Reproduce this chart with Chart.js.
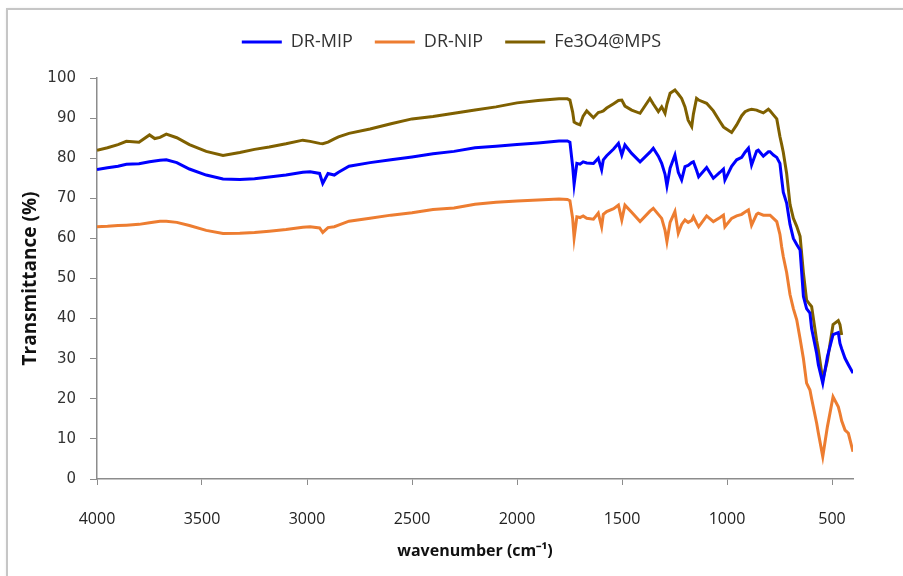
<!DOCTYPE html>
<html>
<head>
<meta charset="utf-8">
<script src="https://cdn.jsdelivr.net/npm/chart.js@4.4.1/dist/chart.umd.min.js"></script>
<style>
    html, body { margin: 0; padding: 0; background: #fff; }
    #wrap { position: relative; width: 903px; height: 576px; overflow: hidden; }
    #frame {
        position: absolute; left: 6px; top: 8px; width: 940px; height: 620px;
        border: 2px solid #c6c6c6; box-shadow: 1px 1px 3px rgba(0,0,0,0.15);
        pointer-events: none;
    }
</style>
</head>
<body>
<div id="wrap">
    <canvas id="ftirChart" width="903" height="576"></canvas>
    <div id="frame"></div>
</div>
<script>
// --- Data ---
const wavenumbers = [4000, 3950, 3900, 3860, 3800, 3750, 3725, 3700, 3670, 3620, 3560, 3480, 3400, 3320, 3250, 3180, 3100, 3020, 2985, 2940, 2925, 2900, 2870, 2850, 2800, 2700, 2600, 2500, 2400, 2300, 2200, 2100, 2000, 1900, 1800, 1760, 1748, 1735, 1728, 1715, 1700, 1685, 1668, 1636, 1613, 1597, 1589, 1573, 1540, 1517, 1501, 1486, 1454, 1414, 1367, 1351, 1327, 1311, 1295, 1286, 1271, 1248, 1232, 1216, 1200, 1185, 1168, 1160, 1145, 1135, 1097, 1065, 1033, 1017, 1010, 978, 954, 930, 914, 898, 883, 859, 851, 827, 803, 795, 779, 763, 748, 740, 732, 716, 700, 684, 668, 652, 636, 621, 605, 597, 573, 565, 544, 522, 495, 470, 462, 454, 438, 422, 400];

const drMip = [77.2, 77.6, 78.0, 78.5, 78.6, 79.1, 79.3, 79.5, 79.6, 78.9, 77.3, 75.8, 74.8, 74.7, 74.9, 75.3, 75.8, 76.5, 76.6, 76.2, 73.7, 76.2, 75.8, 76.5, 78.0, 78.9, 79.6, 80.3, 81.1, 81.7, 82.6, 83.0, 83.4, 83.8, 84.3, 84.3, 84.0, 78.0, 73.5, 78.7, 78.5, 79.1, 78.8, 78.7, 80.0, 77.1, 79.6, 80.6, 82.3, 83.7, 80.8, 83.3, 81.2, 79.1, 81.5, 82.5, 80.5, 78.7, 76.0, 73.1, 77.5, 80.8, 76.5, 74.6, 77.9, 78.2, 78.9, 79.1, 77.0, 75.4, 77.7, 75.0, 76.5, 77.3, 74.6, 78.0, 79.6, 80.2, 81.5, 82.5, 78.3, 81.8, 82.0, 80.5, 81.6, 81.6, 80.8, 80.2, 78.7, 75.0, 71.5, 68.8, 63.5, 60.0, 58.5, 57.1, 45.5, 42.5, 41.4, 37.5, 31.3, 28.5, 23.9, 30.5, 36.0, 36.5, 33.8, 32.5, 30.1, 28.5, 26.4];

const drNip = [62.9, 63.0, 63.2, 63.3, 63.5, 63.9, 64.1, 64.3, 64.3, 64.0, 63.2, 62.0, 61.2, 61.3, 61.5, 61.8, 62.2, 62.8, 62.9, 62.6, 61.5, 62.7, 62.9, 63.3, 64.3, 65.0, 65.8, 66.4, 67.2, 67.6, 68.5, 69.0, 69.3, 69.6, 69.8, 69.7, 69.4, 65.0, 60.2, 65.4, 65.2, 65.6, 65.0, 64.8, 66.3, 62.9, 66.0, 66.7, 67.4, 68.3, 64.6, 68.3, 66.5, 64.2, 66.8, 67.5, 66.0, 65.0, 62.0, 59.2, 64.0, 66.7, 61.3, 63.5, 64.6, 64.0, 64.5, 65.4, 63.8, 62.9, 65.6, 64.2, 65.2, 65.8, 62.9, 65.0, 65.6, 66.0, 66.6, 67.1, 63.3, 66.0, 66.3, 65.8, 65.8, 65.8, 65.0, 64.2, 61.0, 58.0, 55.5, 51.5, 46.0, 42.5, 39.7, 35.0, 30.0, 23.9, 22.2, 20.0, 13.9, 11.5, 5.6, 13.0, 20.5, 18.0, 16.4, 14.5, 12.2, 11.4, 6.8];

const fe3o4Mps = [82.0, 82.6, 83.4, 84.2, 84.0, 85.8, 84.9, 85.2, 86.0, 85.1, 83.4, 81.7, 80.7, 81.4, 82.2, 82.8, 83.6, 84.5, 84.2, 83.7, 83.6, 84.0, 84.8, 85.3, 86.2, 87.3, 88.6, 89.8, 90.4, 91.2, 92.0, 92.8, 93.8, 94.4, 94.8, 94.8, 94.5, 91.5, 89.0, 88.6, 88.3, 90.5, 91.8, 90.1, 91.4, 91.6, 91.8, 92.5, 93.6, 94.4, 94.5, 93.0, 92.0, 91.2, 94.9, 93.5, 91.6, 92.8, 91.2, 93.5, 96.2, 97.0, 96.0, 94.9, 92.8, 89.5, 87.9, 91.0, 94.9, 94.5, 93.7, 91.8, 89.1, 87.8, 87.5, 86.4, 88.3, 90.6, 91.6, 92.0, 92.2, 92.0, 91.8, 91.3, 92.2, 91.8, 90.8, 89.8, 85.4, 83.5, 81.5, 76.2, 68.5, 65.0, 63.0, 60.5, 51.3, 44.6, 43.5, 43.0, 34.5, 32.2, 24.7, 29.5, 38.5, 39.5, 38.5, 35.9, null, null, null];

const xTicks = [4000, 3500, 3000, 2500, 2000, 1500, 1000, 500];
const yTicks = [0, 10, 20, 30, 40, 50, 60, 70, 80, 90, 100];

const toPoints = vals => wavenumbers.map((w, i) => ({ x: w, y: vals[i] }));

const axisColor = '#8c8c8c';
const labelFont = "'Liberation Sans Narrow', 'Open Sans', sans-serif";

// Fix legend box height so the plot area starts where the original does
const legendHeight = {
    id: 'legendHeight',
    beforeInit(chart) {
        const origFit = chart.legend.fit;
        chart.legend.fit = function () {
            origFit.bind(chart.legend)();
            this.height = 67;
        };
    }
};

const makeSet = (label, vals, color) => ({
    label: label,
    data: toPoints(vals),
    borderColor: color,
    backgroundColor: color,
    borderWidth: 3,
    pointRadius: 0,
    tension: 0,
    fill: false
});

new Chart(document.getElementById('ftirChart'), {
    type: 'line',
    data: {
        datasets: [
            makeSet('DR-MIP', drMip, '#0000ff'),
            makeSet('DR-NIP', drNip, '#ed7d31'),
            makeSet('Fe3O4@MPS', fe3o4Mps, '#7f6000')
        ]
    },
    options: {
        responsive: false,
        animation: false,
        layout: { padding: { top: 11, left: 0, right: 0, bottom: 0 } },
        plugins: {
            legend: {
                position: 'top',
                labels: {
                    color: '#333',
                    font: { size: 18, family: labelFont },
                    usePointStyle: true,
                    pointStyle: 'line',
                    pointStyleWidth: 40,
                    padding: 22
                }
            },
            tooltip: { enabled: false }
        },
        scales: {
            x: {
                type: 'linear',
                reverse: true,
                min: 400,
                max: 4000,
                afterBuildTicks: s => { s.ticks = xTicks.map(v => ({ value: v })); },
                afterFit: s => { s.height = 97; },
                grid: { display: true, drawOnChartArea: false, drawTicks: true, tickLength: 6, color: axisColor },
                border: { color: axisColor, width: 1.5 },
                ticks: {
                    color: '#222',
                    padding: 25,
                    maxRotation: 0,
                    callback: v => String(v),
                    font: { size: 16, family: labelFont }
                },
                title: {
                    display: true,
                    text: 'wavenumber (cm\u207B\u00B9)',
                    color: '#111',
                    padding: { top: 0, bottom: 15 },
                    font: { size: 16, weight: 'bold', family: labelFont }
                }
            },
            y: {
                min: 0,
                max: 100,
                afterBuildTicks: s => { s.ticks = yTicks.map(v => ({ value: v })); },
                afterFit: s => { s.width = 97; },
                grid: { display: true, drawOnChartArea: false, drawTicks: true, tickLength: 7, color: axisColor },
                border: { color: axisColor, width: 1.5 },
                ticks: {
                    color: '#333',
                    padding: 14,
                    font: { size: 15, family: "'DejaVu Sans', sans-serif" }
                },
                title: {
                    display: true,
                    text: 'Transmittance (%)',
                    color: '#111',
                    padding: { top: 19, bottom: 0 },
                    font: { size: 19, weight: 'bold', family: labelFont }
                }
            },
            // empty right-hand axis, only reserves room so the legend stays centred on the page
            yRight: {
                position: 'right',
                display: true,
                afterFit: s => { s.width = 50; },
                grid: { display: false },
                border: { display: false },
                ticks: { display: false },
                min: 0,
                max: 100
            }
        }
    },
    plugins: [legendHeight]
});
</script>
</body>
</html>
